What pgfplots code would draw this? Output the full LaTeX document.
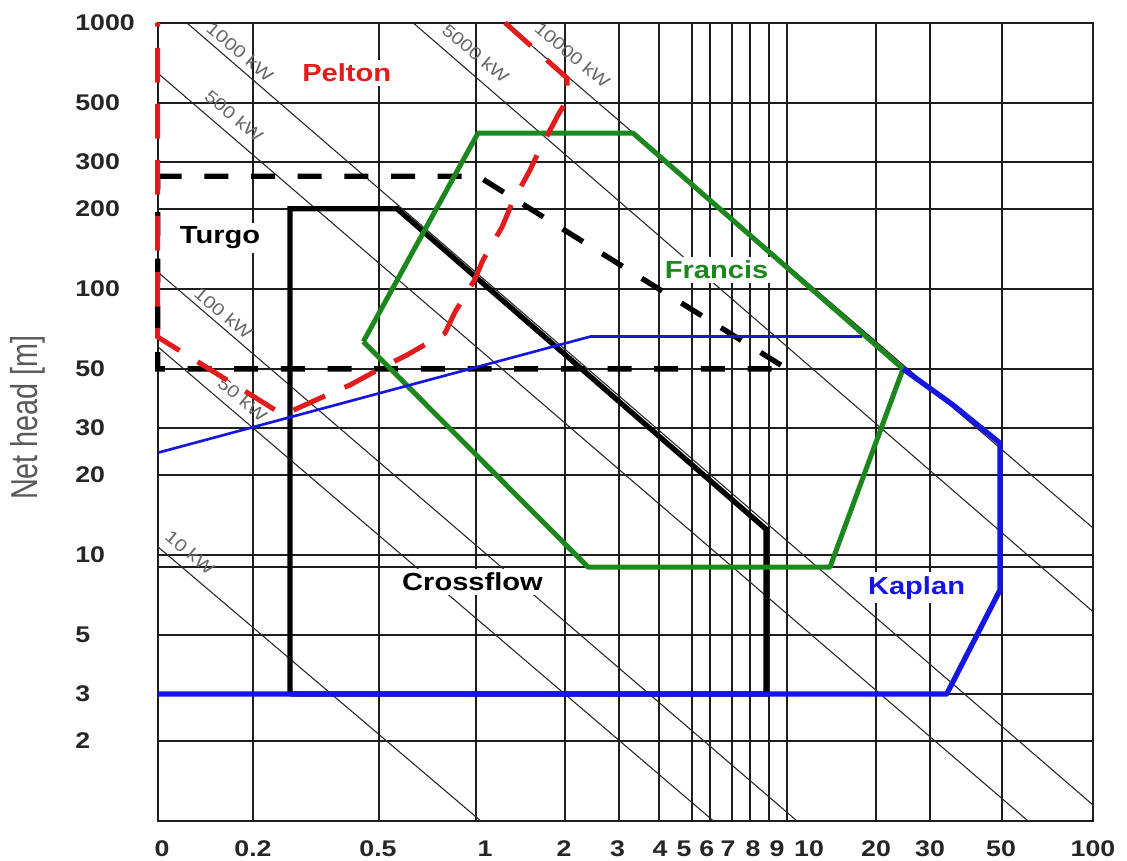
\documentclass[border=0pt]{standalone}
\usepackage{fontspec}
\setmainfont{Liberation Sans}
\newfontfamily\lbl[FakeStretch=1.18]{Liberation Sans}
\usepackage{graphicx}
\usepackage{pgfplots}
\pgfplotsset{compat=1.18}

\definecolor{pelred}{RGB}{225,28,28}
\definecolor{frgreen}{RGB}{28,135,28}
\definecolor{kapblue}{RGB}{22,22,225}
\definecolor{gridc}{RGB}{30,30,30}

\begin{document}
\begin{tikzpicture}
\path[use as bounding box] (-118.3pt,-30pt) rectangle (727pt,615.75pt);
\begin{axis}[
  scale only axis, width=701.5pt, height=598.7pt,
  xmin=0, xmax=935.3, ymin=1, ymax=1000, ymode=log,
  clip=false,
  axis line style={line width=1.5pt, gridc},
  % flow-rate labels [m3/s]
  xtick={4.3,95.3,220.3,327.3,406.3,459.8,502.3,526.3,549,570.3,595.3,619.3,651.3,718.3,772.3,843.3,935.3},
  xticklabels={0,0.2,0.5,1,2,3,4,5,6,7,8,9,10,20,30,50,100},
  % flow-rate grid lines
  minor xtick={95,221.3,318.3,407.3,460.8,501.3,534.3,552.3,574.3,592.3,611.3,629.3,718.3,772.3,844.3},
  ytick={2,3,5,10,20,30,50,100,200,300,500,1000},
  yticklabels={2,3,5,10,20,30,50,100,200,300,500,1000},
  minor ytick={9},
  xmajorgrids=false, xminorgrids=true, ymajorgrids=true, yminorgrids=true,
  major grid style={line width=1.5pt, gridc},
  minor grid style={line width=1.5pt, gridc},
  major tick length=0pt, minor tick length=0pt,
  tick label style={font=\lbl\bfseries\fontsize{17}{19}\selectfont, text=black!85},
  xticklabel style={anchor=base, yshift=-27pt, inner sep=0pt},
  yticklabel style={anchor=west, xshift=-62pt, inner sep=0pt},
  ylabel={\scalebox{1}[1.3]{Net head [m]}},
  every axis y label/.style={at={(axis description cs:-0.1392,0.5054)}, rotate=90, anchor=center,
    font=\fontsize{21.6}{24}\selectfont, text=black!65},
]

% constant-power lines
\addplot[black!85, line width=0.8pt] coordinates {(0,10.74) (323.1,1)};
\addplot[black!85, line width=0.8pt] coordinates {(0,60.6) (555.8,1)};
\addplot[black!85, line width=0.8pt] coordinates {(0,115.7) (639.3,1)};
\addplot[black!85, line width=0.8pt] coordinates {(0,647.1) (870.3,1)};
\addplot[black!85, line width=0.8pt] coordinates {(29,1000) (935.3,1.148)};
\addplot[black!85, line width=0.8pt] coordinates {(255.3,1000) (935.3,6.117)};
\addplot[black!85, line width=0.8pt] coordinates {(347.3,1000) (935.3,12.62)};

\begin{scope}[every node/.style={font=\lbl\fontsize{13}{14}\selectfont, text=black!60, rotate=-40, inner sep=1pt}]
\node at (axis cs:32.3,10.2) {10 kW};
\node at (axis cs:84.8,38.5) {50 kW};
\node at (axis cs:65.6,80.9) {100 kW};
\node at (axis cs:76.3,446) {500 kW};
\node at (axis cs:82.3,778) {1000 kW};
\node at (axis cs:318.1,767) {5000 kW};
\node at (axis cs:414.8,756) {10000 kW};
\end{scope}

\begin{scope}[every node/.style={font=\lbl\bfseries\fontsize{18.5}{20}\selectfont, fill=white, inner sep=3pt}]
\node[text=pelred] at (axis cs:189,647) {Pelton};
\node[text=black] at (axis cs:62.3,155.2) {Turgo};
\node[text=frgreen] at (axis cs:558.8,117.7) {Francis};
\node[text=black] at (axis cs:314.8,7.91) {Crossflow};
\node[text=kapblue] at (axis cs:758.8,7.51) {Kaplan};
\end{scope}

% Turgo
\addplot[black, line width=4pt, dash pattern=on 18pt off 17pt]
  coordinates {(0,265) (320.3,265) (629.3,50) (0,50) (0,265)};
% Crossflow
\addplot[black, line width=4pt, line join=miter]
  coordinates {(132.3,3) (132.3,200) (239.3,200) (608.3,12.5) (608.3,3) (132.3,3)};
% Francis
\addplot[frgreen, line width=3.75pt, line join=round]
  coordinates {(205.6,63.3) (320.3,385) (475.3,385) (745.3,50) (672.3,9) (430.3,9) (205.6,63.3)};
% Kaplan
\addplot[kapblue, line width=2pt] coordinates {(0,24.2) (432.3,66.1)};
\addplot[kapblue, line width=2.6pt] coordinates {(432.3,66.1) (704,66.1)};
\addplot[kapblue, line width=4pt, line join=round]
  coordinates {(0,3) (789,3) (842.3,7.38) (842.3,26.3) (795.3,36.6) (745.3,50)};
% Pelton
\addplot[pelred, line width=3.75pt, dash pattern=on 26pt off 16pt]
  coordinates {(347.3,1000) (409.3,619.7) (409.3,512.4) (400.3,450) (380.3,323.8) (372.3,279.5)
    (354.3,210.1) (344.3,170.7) (325.3,128.3) (316.3,107) (297.3,81.8) (287.3,68.2) (249.3,56.4)
    (225.3,50.8) (192.3,43.5) (169.3,39.9) (125.3,33.6) (0,65.9) (0,1000)};
\end{axis}
\end{tikzpicture}
\end{document}
